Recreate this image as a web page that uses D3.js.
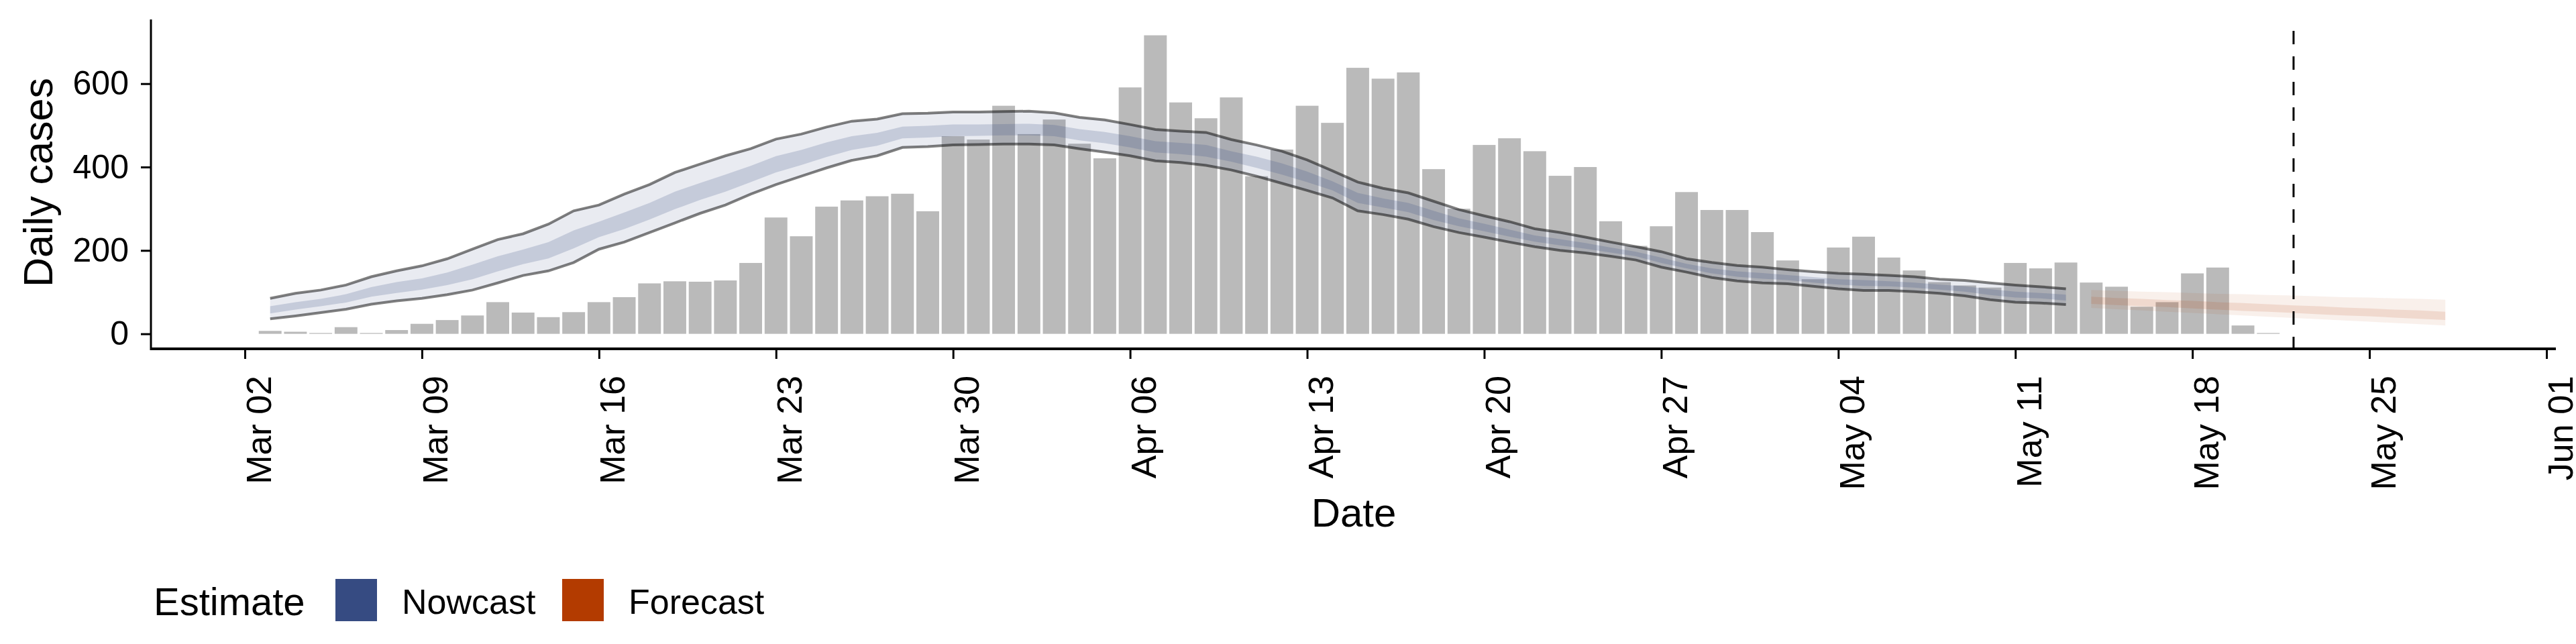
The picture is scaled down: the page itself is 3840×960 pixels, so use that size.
<!DOCTYPE html>
<html><head><meta charset="utf-8">
<script src="https://cdn.jsdelivr.net/npm/d3@7"></script>
<style>body{margin:0;background:#fff}text{font-family:"Liberation Sans",Arial,sans-serif}</style>
</head><body><svg id="c" width="3840" height="960"></svg>
<script>
const startDate = "2020-03-03";
const cases = [7,5,2,16,2,9,24,33,44,76,51,40,52,76,88,121,126,125,128,170,279,234,305,320,330,336,294,474,466,547,479,514,456,421,591,716,555,517,567,378,442,547,506,638,612,627,395,300,453,469,438,379,400,270,211,258,340,297,297,244,176,131,207,233,183,152,124,116,111,170,157,171,123,113,65,76,145,159,20,2];
const nowUpper90 = [85,97,105,117,137,151,163,180,203,226,240,263,295,309,335,358,387,407,427,444,467,479,496,510,515,528,529,532,532,533,534,530,519,513,502,490,486,483,466,453,438,417,391,364,349,338,318,298,283,269,252,243,232,220,209,197,180,171,164,160,154,149,145,143,140,137,131,128,122,117,113,108];
const nowLower90 = [36,43,51,59,71,79,85,94,105,122,140,151,171,203,220,243,266,289,309,335,358,378,398,416,427,447,449,453,454,455,455,453,444,436,427,415,411,404,393,378,361,344,326,295,286,275,257,243,232,220,209,200,194,186,177,160,148,135,127,122,120,114,108,104,104,101,97,91,82,76,74,70];
const nowUpper50 = [66,76,84,95,112,124,133,147,166,186,202,220,248,269,291,314,341,362,382,403,426,441,459,474,482,497,499,502,502,503,504,501,491,484,474,462,458,453,438,425,409,389,366,338,325,314,295,277,264,250,236,227,218,207,197,183,168,157,150,146,141,136,131,129,126,123,118,114,107,101,98,94];
const nowLower50 = [49,58,66,75,89,98,106,117,131,150,167,181,205,232,251,274,299,321,341,364,387,405,424,441,451,469,471,474,475,476,476,474,464,457,447,435,431,425,413,398,382,364,344,314,303,292,273,258,246,233,221,212,204,195,186,170,157,145,137,132,129,123,118,115,114,111,106,101,93,87,85,80];
const foreStart = "2020-05-14";
const foreUpper90 = [105,103,101,100,98,96,95,93,92,90,88,87,85,84,82];
const foreLower90 = [62,59,56,53,50,47,44,41,38,35,32,29,26,23,20];
const foreUpper50 = [89,86,84,81,79,76,74,71,68,66,63,61,58,56,53];
const foreLower50 = [72,69,66,64,61,58,55,53,50,47,44,42,39,36,33];
const tickDates = ["2020-03-02","2020-03-09","2020-03-16","2020-03-23","2020-03-30","2020-04-06","2020-04-13","2020-04-20","2020-04-27","2020-05-04","2020-05-11","2020-05-18","2020-05-25","2020-06-01"];
const yTicks = [0,200,400,600];
const cutoffDate = "2020-05-22";
const legendItems = ["Nowcast","Forecast"];
const colors = {Nowcast:"#364b82", Forecast:"#b33b00"};

const p = d3.timeParse("%Y-%m-%d");
const DAY = 864e5;
const addDays = (d,n)=>new Date(d.getTime()+n*DAY);
const svg = d3.select("#c");
const x = d3.scaleTime().domain([p("2020-03-02"), p("2020-06-01")]).range([365,3796]);
const y = d3.scaleLinear().domain([-36,754]).range([520,29]);
const dayW = x(p("2020-03-03"))-x(p("2020-03-02"));

const s0 = p(startDate), f0 = p(foreStart);
svg.append("g").selectAll("rect").data(cases).join("rect")
  .attr("x",(d,i)=>x(addDays(s0,i))-dayW*0.45).attr("width",dayW*0.9)
  .attr("y",d=>y(d)).attr("height",d=>y(0)-y(d)).attr("fill","#bababa");

function band(lo,hi,start,color,op){
  const data = lo.map((v,i)=>({d:addDays(start,i),lo:v,hi:hi[i]}));
  svg.append("path").datum(data).attr("fill",color).attr("fill-opacity",op)
    .attr("d",d3.area().x(d=>x(d.d)).y0(d=>y(d.lo)).y1(d=>y(d.hi)));
}
band(nowLower90,nowUpper90,s0,colors.Nowcast,0.11);
band(nowLower50,nowUpper50,s0,colors.Nowcast,0.2);
band(foreLower90,foreUpper90,f0,colors.Forecast,0.08);
band(foreLower50,foreUpper50,f0,colors.Forecast,0.12);
const ln = d3.line().x(d=>x(d.d)).y(d=>y(d.v));
[nowUpper90,nowLower90].forEach(arr=>{
  svg.append("path").datum(arr.map((v,i)=>({d:addDays(s0,i),v})))
    .attr("fill","none").attr("stroke","#000").attr("stroke-opacity",0.5).attr("stroke-width",4).attr("d",ln);
});
svg.append("line").attr("x1",x(p(cutoffDate))).attr("x2",x(p(cutoffDate))).attr("y1",46).attr("y2",520)
  .attr("stroke","#000").attr("stroke-width",3).attr("stroke-dasharray","20,18");

const xa = svg.append("g").attr("transform","translate(0,520)")
  .call(d3.axisBottom(x).tickValues(tickDates.map(p)).tickFormat(d3.timeFormat("%b %d")).tickSize(15).tickSizeOuter(0));
xa.select(".domain").attr("d","M225,0H3810").attr("stroke-width",4);
xa.selectAll(".tick line").attr("stroke-width",3);
xa.selectAll(".tick text").attr("font-size",52).attr("fill","#000")
  .attr("transform","translate(0,40) rotate(-90)").attr("text-anchor","end").attr("x",0).attr("y",38).attr("dy",0);
const ya = svg.append("g").attr("transform","translate(225,0)")
  .call(d3.axisLeft(y).tickValues(yTicks).tickSize(15).tickSizeOuter(0));
ya.select(".domain").attr("d","M0,29V522").attr("stroke-width",3);
ya.selectAll(".tick line").attr("stroke-width",3);
ya.selectAll(".tick text").attr("font-size",50).attr("fill","#000").attr("x",-33);

svg.append("text").attr("x",2018).attr("y",785).attr("text-anchor","middle").attr("font-size",60).text("Date");
svg.append("text").attr("transform","translate(78,272) rotate(-90)").attr("text-anchor","middle").attr("font-size",61).text("Daily cases");

svg.append("text").attr("x",229).attr("y",917).attr("font-size",58).text("Estimate");
const lx = [500,838], tx=[599,937];
legendItems.forEach((k,i)=>{
  svg.append("rect").attr("x",lx[i]).attr("y",863).attr("width",62).attr("height",63).attr("fill",colors[k]);
  svg.append("text").attr("x",tx[i]).attr("y",915).attr("font-size",52).text(k);
});
</script></body></html>
